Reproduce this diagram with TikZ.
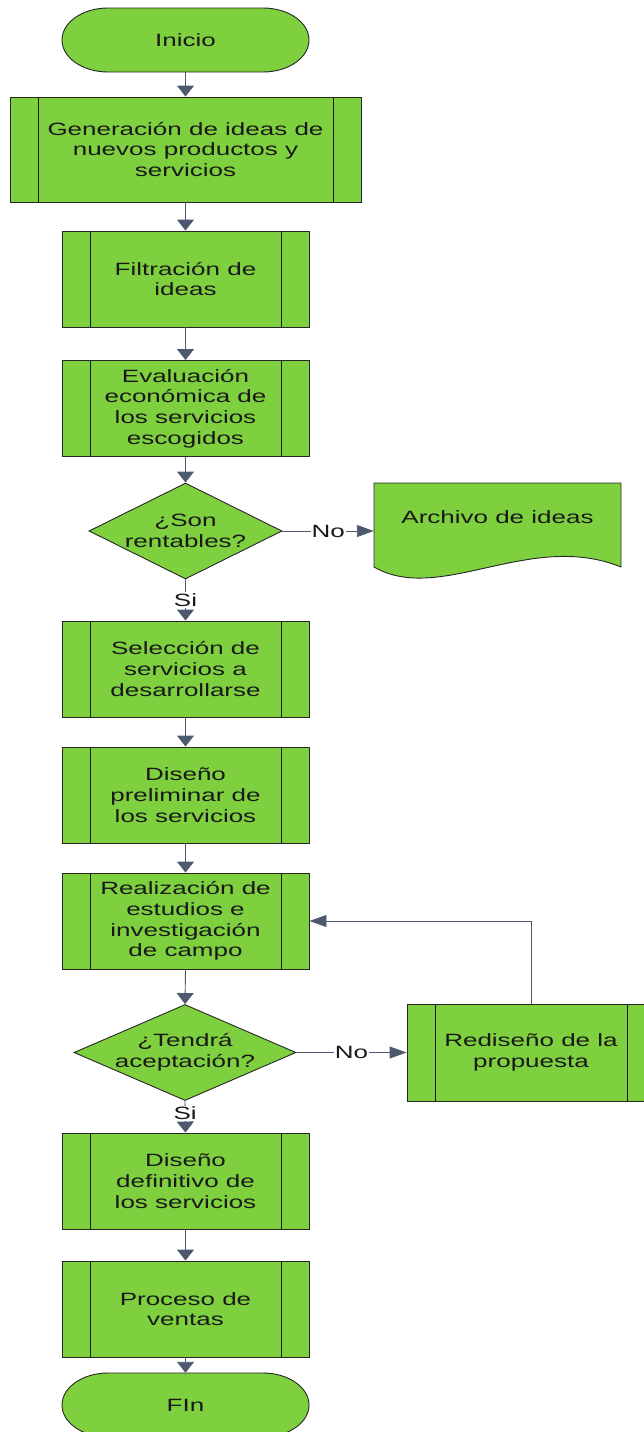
\documentclass[tikz,border=0pt]{standalone}
\usepackage{fontspec}
\setmainfont[FakeStretch=1.46]{Liberation Sans}
\usetikzlibrary{arrows.meta,shapes.geometric}
\definecolor{boxgreen}{RGB}{126,208,63}
\definecolor{linkgray}{RGB}{78,89,112}
\newcommand\flowfont{\fontsize{17.8pt}{20.7pt}\selectfont}
\tikzset{
  flowtext/.style={align=center,font=\flowfont,text=black!90},
  predef/.style={flowtext,draw=black!85,line width=0.9pt,fill=boxgreen,inner sep=0pt,minimum width=247pt,minimum height=96pt,
    path picture={\draw[black!90,line width=0.9pt] ([xshift=28pt]path picture bounding box.north west)--([xshift=28pt]path picture bounding box.south west) ([xshift=-28pt]path picture bounding box.north east)--([xshift=-28pt]path picture bounding box.south east);}},
  decision/.style={diamond,draw=black!85,line width=0.9pt,fill=boxgreen,inner sep=0pt,minimum height=96pt},
  termbox/.style={draw=black!85,line width=0.9pt,fill=boxgreen},
  termtext/.style={flowtext,inner sep=0pt,minimum width=247pt,minimum height=64pt},
  tag/.style={flowtext,fill=white,inner sep=1pt},
  vlink/.style={linkgray,line width=0.9pt,-{Triangle[width=17pt,length=11pt]}},
  hlink/.style={linkgray,line width=0.9pt,-{Triangle[width=12pt,length=17pt]}}
}

\begin{document}
\begin{tikzpicture}[x=1pt,y=-1pt]
\useasboundingbox (0,0) rectangle (644,1432);
\draw[termbox] (108,8) -- (263,8) arc[start angle=90,end angle=-90,x radius=46pt,y radius=32pt] -- (108,72) arc[start angle=270,end angle=90,x radius=46pt,y radius=32pt] -- cycle;
\draw[termbox] (108,1373) -- (263,1373) arc[start angle=90,end angle=-90,x radius=46pt,y radius=32pt] -- (108,1437) arc[start angle=270,end angle=90,x radius=46pt,y radius=32pt] -- cycle;
\draw[termbox] (374,483) -- (621,483) -- (621,567) .. controls (530,530) and (440,605) .. (374,567) -- cycle;
\node[termtext] (ini) at (185.5,40) {Inicio};
\node[predef,minimum width=351pt,minimum height=105pt] (gen) at (185.5,149.5) {Generación de ideas de\\nuevos productos y\\servicios};
\node[predef] (filt) at (185.5,279) {Filtración de\\ideas};
\node[predef] (eval) at (185.5,408.5) {Evaluación\\económica de\\los servicios\\escogidos};
\node[decision,minimum width=193pt,label={[flowtext]center:{¿Son\\rentables?}}] (rent) at (185.5,531) {};
\node[flowtext,inner sep=0pt,minimum width=247pt,minimum height=84pt,text depth=16pt] (arch) at (497.5,525) {Archivo de ideas};
\node[predef] (sel) at (185.5,669) {Selección de\\servicios a\\desarrollarse};
\node[predef] (prel) at (185.5,795) {Diseño\\preliminar de\\los servicios};
\node[predef] (real) at (185.5,921) {Realización de\\estudios e\\investigación\\de campo};
\node[decision,minimum width=222pt,label={[flowtext]center:{¿Tendrá\\aceptación?}}] (acep) at (185,1052.5) {};
\node[predef,minimum width=248pt,minimum height=97pt] (redis) at (531,1052.5) {Rediseño de la\\propuesta};
\node[predef] (defi) at (185.5,1181) {Diseño\\definitivo de\\los servicios};
\node[predef] (vent) at (185.5,1309) {Proceso de\\ventas};
\node[termtext] (fin) at (185.5,1405) {FIn};
\draw[vlink] (ini.south) -- (gen.north);
\draw[vlink] (gen.south) -- (filt.north);
\draw[vlink] (filt.south) -- (eval.north);
\draw[vlink] (eval.south) -- (rent.north);
\draw[hlink] (rent.east) -- node[tag]{No} (rent.east -| arch.west);
\draw[vlink] (rent.south) -- node[tag]{Si} (sel.north);
\draw[vlink] (sel.south) -- (prel.north);
\draw[vlink] (prel.south) -- (real.north);
\draw[vlink] (real.south) -- (acep.north);
\draw[hlink] (acep.east) -- node[tag]{No} (redis.west);
\draw[hlink] (redis.north) |- (real.east);
\draw[vlink] (acep.south) -- node[tag,pos=0.4]{Si} (defi.north);
\draw[vlink] (defi.south) -- (vent.north);
\draw[vlink] (vent.south) -- (fin.north);
\end{tikzpicture}
\end{document}
